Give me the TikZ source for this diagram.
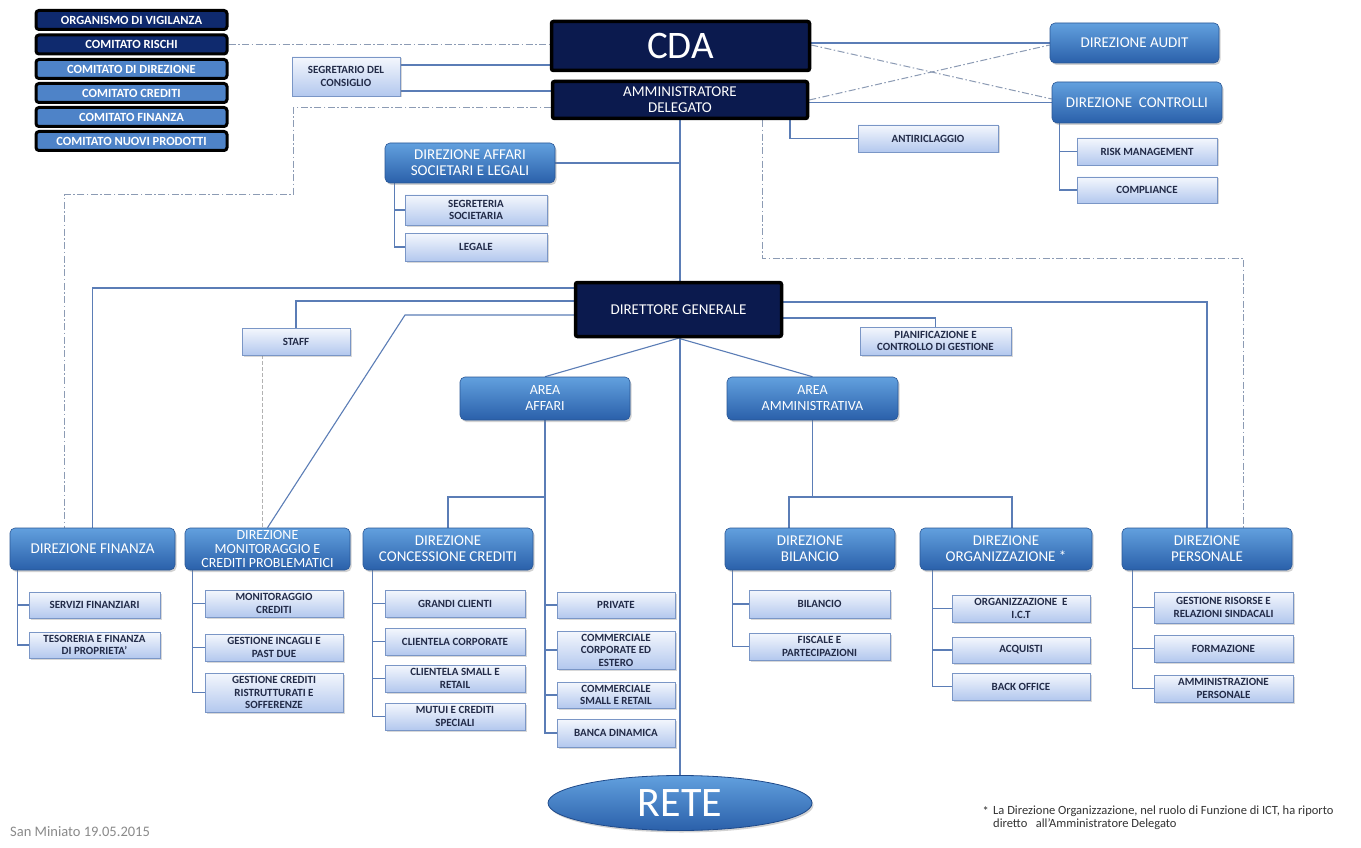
\documentclass[tikz,border=0pt]{standalone}
\usepackage{fontspec}
\setmainfont{Carlito}
\usetikzlibrary{shapes.geometric,shadows,backgrounds}
\definecolor{navy}{HTML}{0B1A4E}
\definecolor{bluetop}{HTML}{62A0DE}
\definecolor{bluebot}{HTML}{2A60AA}
\definecolor{blueedge}{HTML}{2A5796}
\definecolor{lighttop}{HTML}{F4F7FD}
\definecolor{lightbot}{HTML}{B3C8EE}
\definecolor{lightedge}{HTML}{7A96C6}
\definecolor{linec}{HTML}{5B7DB6}
\definecolor{ddc}{HTML}{8C9BB4}
\definecolor{txtdark}{HTML}{222B48}
\definecolor{comnavy}{HTML}{0F2A6E}
\definecolor{comblue}{HTML}{4E83C8}
\definecolor{notec}{HTML}{333333}
\definecolor{datec}{HTML}{8A8A8A}
\definecolor{reteedge}{HTML}{1F4A8A}
\tikzset{
  sz/.style 2 args={minimum width=#1,minimum height=#2},
  dark/.style={draw=black,line width=3.5pt,fill=navy,text=white,rounded corners=2pt,align=center,inner sep=0pt},
  bluebox/.style={draw=blueedge,line width=0.6pt,top color=bluetop,bottom color=bluebot,text=white,rounded corners=5pt,align=center,inner sep=0pt,font=\fontsize{15}{16}\selectfont,drop shadow={shadow xshift=1.5pt,shadow yshift=-2pt,opacity=0.35}},
  lightbox/.style={draw=lightedge,line width=0.8pt,top color=lighttop,bottom color=lightbot,text=txtdark,align=center,inner sep=0pt,font=\bfseries\fontsize{11}{12.5}\selectfont,drop shadow={shadow xshift=1.5pt,shadow yshift=-1.5pt,opacity=0.3}},
  comm/.style={draw=black,line width=3pt,rounded corners=3pt,text=white,inner sep=0pt,font=\bfseries\fontsize{12.5}{13}\selectfont},
  conn/.style={draw=linec,line width=1.1pt},
  dd/.style={draw=ddc,line width=1pt,dash pattern=on 7pt off 2.5pt on 1.5pt off 2.5pt},
  dsh/.style={draw=black!30,line width=0.9pt,dash pattern=on 4pt off 2pt}
}
\begin{document}
\begin{tikzpicture}[x=1pt,y=-1pt]
\useasboundingbox (0,0) rectangle (1361,848);

% committees
\node[comm,fill=comnavy,sz={191}{19}] (vig) at (131.5,20) {ORGANISMO DI VIGILANZA};
\node[comm,fill=comnavy,sz={191}{19}] (rischi) at (131.5,44.5) {COMITATO RISCHI};
\node[comm,fill=comblue,sz={191}{19}] (cdir) at (131.5,69) {COMITATO DI DIREZIONE};
\node[comm,fill=comblue,sz={191}{19}] (ccred) at (131.5,93) {COMITATO CREDITI};
\node[comm,fill=comblue,sz={191}{19}] (cfin) at (131.5,117) {COMITATO FINANZA};
\node[comm,fill=comblue,sz={191}{19}] (cnuovi) at (131.5,141) {COMITATO NUOVI PRODOTTI};

% top
\node[dark,sz={258}{49},font=\fontsize{39}{39}\selectfont] (cda) at (680.5,46) {CDA};
\node[dark,sz={255}{37},font=\fontsize{15}{16}\selectfont] (ad) at (680,100) {AMMINISTRATORE\\DELEGATO};
\node[dark,sz={206}{54},font=\fontsize{15}{16}\selectfont] (dg) at (678.5,309.5) {DIRETTORE GENERALE};

\node[lightbox,sz={108}{39}] (segr) at (346,76.5) {SEGRETARIO DEL\\CONSIGLIO};
\node[bluebox,sz={169}{40}] (audit) at (1134.5,43) {DIREZIONE AUDIT};
\node[bluebox,sz={170}{41}] (contr) at (1137,102.5) {DIREZIONE\ \ CONTROLLI};
\node[lightbox,sz={140}{27}] (antiric) at (928,138.5) {ANTIRICLAGGIO};
\node[lightbox,sz={140}{27}] (risk) at (1147,151.5) {RISK MANAGEMENT};
\node[lightbox,sz={140}{26}] (compl) at (1147,190) {COMPLIANCE};

\node[bluebox,sz={170}{40}] (affsoc) at (470,163) {DIREZIONE AFFARI\\SOCIETARI E LEGALI};
\node[lightbox,sz={142}{30}] (segsoc) at (476,210) {SEGRETERIA\\SOCIETARIA};
\node[lightbox,sz={142}{28}] (legale) at (476,247) {LEGALE};

\node[lightbox,sz={108}{27}] (staff) at (296,341.5) {STAFF};
\node[lightbox,sz={151}{28}] (pianif) at (935.5,341) {PIANIFICAZIONE E\\CONTROLLO DI GESTIONE};
\node[bluebox,sz={170}{43},font=\fontsize{14}{16}\selectfont] (aff) at (545,398.5) {AREA\\AFFARI};
\node[bluebox,sz={171}{43},font=\fontsize{14}{16}\selectfont] (amm) at (812.5,398.5) {AREA\\AMMINISTRATIVA};

% direzioni
\node[bluebox,sz={165}{42}] (fin) at (92.5,549) {DIREZIONE FINANZA};
\node[bluebox,sz={165}{42},font=\fontsize{14}{14}\selectfont] (mon) at (267.5,549) {DIREZIONE\\MONITORAGGIO E\\CREDITI PROBLEMATICI};
\node[bluebox,sz={170}{42}] (conc) at (448,549) {DIREZIONE\\CONCESSIONE CREDITI};
\node[bluebox,sz={170}{42}] (bil) at (810,549) {DIREZIONE\\BILANCIO};
\node[bluebox,sz={172}{42}] (org) at (1006,549) {DIREZIONE\\ORGANIZZAZIONE *};
\node[bluebox,sz={170}{42}] (pers) at (1207,549) {DIREZIONE\\PERSONALE};

% units
\node[lightbox,sz={131}{26}] (serv) at (94.5,605) {SERVIZI FINANZIARI};
\node[lightbox,sz={131}{26}] (tes) at (94.5,645) {TESORERIA E FINANZA\\DI PROPRIETA'};
\node[lightbox,sz={138}{27}] (moncr) at (274,603.5) {MONITORAGGIO\\CREDITI};
\node[lightbox,sz={138}{27}] (incagli) at (274,647.5) {GESTIONE INCAGLI E\\PAST DUE};
\node[lightbox,sz={138}{39}] (ristr) at (274,692.5) {GESTIONE CREDITI\\RISTRUTTURATI E\\SOFFERENZE};
\node[lightbox,sz={140}{27}] (grandi) at (455,603.5) {GRANDI CLIENTI};
\node[lightbox,sz={140}{27}] (corp) at (455,641.5) {CLIENTELA CORPORATE};
\node[lightbox,sz={140}{27}] (small) at (455,678.5) {CLIENTELA SMALL E\\RETAIL};
\node[lightbox,sz={140}{27}] (mutui) at (455,716.5) {MUTUI E CREDITI\\SPECIALI};
\node[lightbox,sz={118}{26}] (priv) at (616,605) {PRIVATE};
\node[lightbox,sz={118}{38}] (comcorp) at (616,650) {COMMERCIALE\\CORPORATE ED\\ESTERO};
\node[lightbox,sz={118}{26}] (comsmall) at (616,695) {COMMERCIALE\\SMALL E RETAIL};
\node[lightbox,sz={118}{28}] (banca) at (616,733) {BANCA DINAMICA};
\node[lightbox,sz={141}{28}] (bilancio) at (819.5,604) {BILANCIO};
\node[lightbox,sz={141}{27}] (fiscale) at (819.5,646.5) {FISCALE E\\PARTECIPAZIONI};
\node[lightbox,sz={138}{27}] (orgict) at (1021,608.5) {ORGANIZZAZIONE\ \ E\\I.C.T};
\node[lightbox,sz={138}{26}] (acq) at (1021,650) {ACQUISTI};
\node[lightbox,sz={138}{27}] (back) at (1021,686.5) {BACK OFFICE};
\node[lightbox,sz={139}{31}] (gestris) at (1223.5,607.5) {GESTIONE RISORSE E\\RELAZIONI SINDACALI};
\node[lightbox,sz={139}{27}] (form) at (1223.5,648.5) {FORMAZIONE};
\node[lightbox,sz={139}{27}] (ammpers) at (1223.5,688.5) {AMMINISTRAZIONE\\PERSONALE};

\node[ellipse,draw=reteedge,line width=0.8pt,top color=bluetop,bottom color=bluebot,text=white,sz={264}{55},inner sep=0pt,font=\fontsize{42}{42}\selectfont,drop shadow={shadow xshift=1.5pt,shadow yshift=-2pt,opacity=0.35}] (rete) at (680,803) {RETE};

% notes
\node[anchor=north west,font=\fontsize{12.5}{13}\selectfont,text=notec,inner sep=0pt,align=left] (note) at (993,806) {La Direzione Organizzazione, nel ruolo di Funzione di ICT, ha riporto\\diretto\ \ \ all'Amministratore Delegato};
\node[anchor=north east,font=\fontsize{12.5}{13}\selectfont,text=notec,inner sep=0pt,xshift=-4pt] (star) at (note.north west) {*};
\node[anchor=west,font=\fontsize{14.5}{15}\selectfont,text=datec,inner sep=0pt] (date) at (10,832) {San Miniato 19.05.2015};

% connectors
\begin{scope}[on background layer]
\fill[white] (0,0) rectangle (1361,848);
\draw[dd] (rischi.east) -- (rischi.east -| cda.west);
\draw[conn] (segr.east |- 0,65) -- (cda.west |- 0,65);
\draw[conn] (segr.east |- 0,91) -- (ad.west |- 0,91);
\draw[conn] (cda.east |- audit.west) -- (audit.west);
\draw[conn] (ad.east |- contr.west) -- (contr.west);
\draw[dd] (cda.east |- 0,45) -- (contr.west |- 0,99);
\draw[dd] (ad.east |- 0,100) -- (audit.west |- 0,45);
\draw[conn] (ad.south -| 790,0) |- (antiric.west);
\draw[conn] ([xshift=8pt]contr.south west) |- (risk.west);
\draw[conn] ([xshift=8pt]contr.south west) |- (compl.west);
\draw[dd] (ad.west |- 0,108) -| (293,195) -| (fin.north -| 64,0);
\draw[conn] (ad.south) -- (ad.south |- rete.north);
\draw[conn] (affsoc.east) -- (affsoc.east -| ad.south);
\draw[conn] ([xshift=10pt]affsoc.south west) |- (segsoc.west);
\draw[conn] ([xshift=10pt]affsoc.south west) |- (legale.west);
\draw[dd] (ad.south -| 762,0) |- (1243,258) -- (pers.north -| 1243,0);
\draw[conn] (dg.west |- 0,288) -| (fin.north);
\draw[conn] (dg.west |- 0,301) -| (staff.north);
\draw[conn] (dg.west |- 0,315) -- (405,315) -- (mon.north);
\draw[dsh] (staff.south -| 262,0) -- (mon.north -| 262,0);
\draw[conn] (dg.east |- 0,302) -| (pers.north);
\draw[conn] (dg.east |- 0,318) -| (pianif.north);
\draw[conn] (dg.south) -- (aff.north);
\draw[conn] (dg.south) -- (amm.north);
\draw[conn] (aff.south) |- (banca.west);
\draw[conn] (aff.south |- priv.west) -- (priv.west);
\draw[conn] (aff.south |- comcorp.west) -- (comcorp.west);
\draw[conn] (aff.south |- comsmall.west) -- (comsmall.west);
\draw[conn] (aff.south |- 0,497) -| (conc.north);
\draw[conn] (amm.south) -- (amm.south |- 0,497);
\draw[conn] (bil.north -| 789,0) -- (789,497) -- (1012,497) -- (org.north -| 1012,0);
\draw[conn] ([xshift=8pt]fin.south west) |- (serv.west);
\draw[conn] ([xshift=8pt]fin.south west) |- (tes.west);
\draw[conn] ([xshift=8pt]mon.south west) |- (moncr.west);
\draw[conn] ([xshift=8pt]mon.south west) |- (incagli.west);
\draw[conn] ([xshift=8pt]mon.south west) |- (ristr.west);
\draw[conn] ([xshift=10pt]conc.south west) |- (grandi.west);
\draw[conn] ([xshift=10pt]conc.south west) |- (corp.west);
\draw[conn] ([xshift=10pt]conc.south west) |- (small.west);
\draw[conn] ([xshift=10pt]conc.south west) |- (mutui.west);
\draw[conn] ([xshift=8pt]bil.south west) |- (bilancio.west);
\draw[conn] ([xshift=8pt]bil.south west) |- (fiscale.west);
\draw[conn] ([xshift=13pt]org.south west) |- (orgict.west);
\draw[conn] ([xshift=13pt]org.south west) |- (acq.west);
\draw[conn] ([xshift=13pt]org.south west) |- (back.west);
\draw[conn] ([xshift=11pt]pers.south west) |- (gestris.west);
\draw[conn] ([xshift=11pt]pers.south west) |- (form.west);
\draw[conn] ([xshift=11pt]pers.south west) |- (ammpers.west);
\end{scope}
\end{tikzpicture}
\end{document}
